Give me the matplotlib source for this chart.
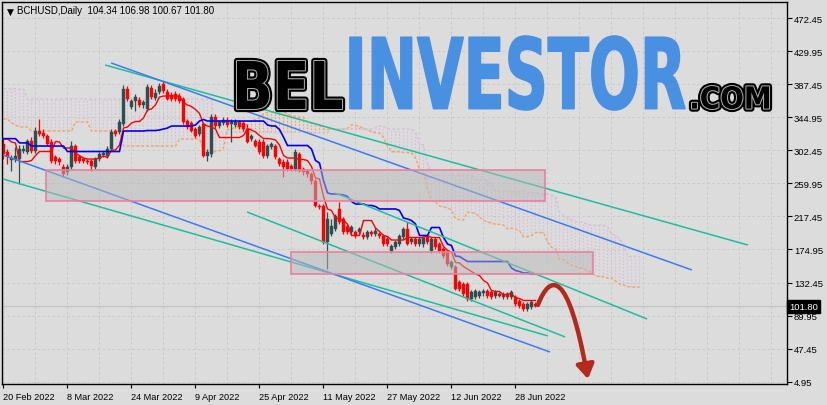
import numpy as np
import pandas as pd
import matplotlib
matplotlib.use("Agg")
import matplotlib.pyplot as plt
import matplotlib.colors as mcolors
from matplotlib.patches import Rectangle, FancyArrowPatch
from matplotlib.path import Path
from matplotlib.patheffects import AbstractPathEffect
from matplotlib.transforms import Affine2D
from matplotlib.textpath import TextPath
from matplotlib.font_manager import FontProperties

# ---------------- data ----------------
symbol_title = "BCHUSD,Daily"
first_date = "2022-02-20"

opens = [310.6, 300.3, 289.9, 289.9, 291.3, 301.6, 300.3, 314.4, 301.6, 327.3,
         324.8, 320.9, 313.2, 293.9, 291.3, 281.0, 274.5, 281.0, 308.0, 293.9,
         291.3, 288.7, 288.7, 281.0, 291.3, 296.4, 295.1, 304.2, 327.3, 326.0,
         336.3, 381.4, 358.2, 365.9, 367.2, 360.7, 355.6, 382.6, 369.8, 377.5,
         387.8, 377.5, 373.6, 374.9, 372.3, 368.5, 340.2, 337.6, 329.9, 323.5,
         336.3, 295.1, 297.7, 345.3, 333.8, 337.6, 341.5, 336.3, 335.0, 338.9,
         337.6, 329.9, 317.0, 314.4, 313.2, 313.2, 295.1, 306.7, 308.0, 291.3,
         287.4, 287.4, 282.3, 278.4, 297.7, 278.4, 275.8, 272.0, 263.0, 230.9,
         230.9, 184.6, 194.9, 201.3, 227.0, 214.2, 205.2, 197.5, 197.5, 197.5,
         193.6, 191.0, 197.5, 194.9, 194.9, 192.3, 188.5, 173.0, 178.2, 182.0,
         191.0, 201.3, 184.6, 188.5, 182.0, 182.0, 191.0, 173.0, 188.5, 182.0,
         175.6, 171.7, 152.5, 152.5, 133.2, 130.6, 130.6, 111.3, 113.9, 115.2,
         118.9, 121.6, 120.3, 115.2, 117.7, 113.9, 117.7, 113.9, 113.9, 108.7,
         104.9, 98.4, 101.0, 104.34]
highs = [317.0, 304.2, 296.4, 306.7, 309.3, 309.3, 317.0, 319.6, 332.5, 342.8,
         329.9, 323.5, 317.0, 296.4, 293.9, 284.8, 284.8, 314.4, 310.6, 296.4,
         293.9, 291.3, 291.3, 293.9, 300.3, 301.6, 308.0, 329.9, 329.9, 342.8,
         386.5, 385.2, 368.5, 374.9, 371.0, 367.2, 387.8, 386.5, 381.4, 389.1,
         391.6, 381.4, 377.5, 378.8, 376.2, 371.0, 342.8, 340.2, 332.5, 335.0,
         338.9, 304.2, 349.2, 349.2, 341.5, 345.3, 345.3, 342.8, 342.8, 341.5,
         340.2, 336.3, 323.5, 317.0, 317.0, 317.0, 310.6, 313.2, 310.6, 293.9,
         291.3, 291.3, 284.8, 304.2, 300.3, 281.0, 278.4, 274.5, 265.6, 233.5,
         233.5, 223.2, 214.2, 220.5, 236.0, 216.8, 207.7, 206.4, 200.1, 203.9,
         197.5, 200.1, 200.1, 203.9, 197.5, 194.9, 191.0, 182.0, 187.2, 194.9,
         203.9, 210.3, 191.0, 191.0, 191.0, 192.3, 193.6, 191.0, 191.0, 184.6,
         178.2, 174.3, 161.5, 155.0, 135.7, 133.2, 133.2, 122.9, 124.2, 122.9,
         124.2, 124.2, 122.9, 122.9, 120.3, 120.3, 120.3, 122.9, 116.4, 111.3,
         107.4, 107.4, 110.0, 106.98]
lows = [291.3, 284.8, 275.8, 287.4, 259.1, 299.0, 297.7, 299.0, 299.0, 320.9,
        318.3, 308.0, 286.1, 284.8, 283.6, 268.1, 270.7, 278.4, 286.1, 286.1,
        286.1, 284.8, 275.8, 278.4, 288.7, 293.9, 292.6, 301.6, 320.9, 323.5,
        333.8, 365.9, 355.6, 353.0, 358.2, 356.9, 353.0, 368.5, 367.2, 374.9,
        376.2, 367.2, 365.9, 365.9, 363.3, 336.3, 329.9, 326.0, 318.3, 320.9,
        293.9, 288.7, 293.9, 331.2, 331.2, 335.0, 332.5, 313.2, 332.5, 329.9,
        327.3, 311.9, 314.4, 306.7, 297.7, 292.6, 292.6, 304.2, 291.3, 282.3,
        268.1, 275.8, 275.8, 275.8, 274.5, 270.7, 268.1, 259.1, 229.6, 227.0,
        182.0, 149.9, 192.3, 198.8, 207.7, 194.9, 194.9, 194.9, 189.8, 194.9,
        188.5, 188.5, 192.3, 192.3, 189.8, 179.5, 179.5, 170.4, 175.6, 179.5,
        188.5, 180.8, 182.0, 179.5, 179.5, 178.2, 182.0, 170.4, 175.6, 170.4,
        164.0, 153.7, 149.9, 122.9, 121.6, 115.2, 108.7, 108.7, 111.3, 112.6,
        115.2, 112.6, 111.3, 112.6, 113.9, 111.3, 111.3, 111.3, 102.3, 99.7,
        95.9, 95.9, 98.4, 100.67]
closes = [297.7, 293.9, 292.6, 295.1, 304.2, 304.2, 314.4, 301.6, 327.3, 323.5,
          320.9, 310.6, 288.7, 288.7, 287.4, 272.0, 281.0, 308.0, 288.7, 288.7,
          288.7, 287.4, 282.3, 291.3, 297.7, 299.0, 304.2, 326.0, 323.5, 338.9,
          381.4, 368.5, 365.9, 371.0, 360.7, 364.6, 383.9, 371.0, 376.2, 385.2,
          378.8, 368.5, 368.5, 368.5, 365.9, 338.9, 332.5, 327.3, 320.9, 332.5,
          295.1, 300.3, 345.3, 333.8, 338.9, 341.5, 335.0, 338.9, 338.9, 332.5,
          329.9, 313.2, 320.9, 308.0, 300.3, 295.1, 308.0, 310.6, 293.9, 284.8,
          281.0, 278.4, 278.4, 300.3, 275.8, 274.5, 272.0, 263.0, 230.9, 229.6,
          184.6, 214.2, 205.2, 218.0, 210.3, 197.5, 197.5, 203.9, 192.3, 201.3,
          191.0, 197.5, 194.9, 198.8, 192.3, 182.0, 182.0, 179.5, 184.6, 192.3,
          201.3, 182.0, 188.5, 182.0, 188.5, 189.8, 184.6, 188.5, 178.2, 173.0,
          166.6, 156.3, 158.9, 124.2, 124.2, 117.7, 111.3, 120.3, 121.6, 120.3,
          121.6, 115.2, 113.9, 120.3, 115.2, 117.7, 113.9, 120.3, 104.9, 102.3,
          98.4, 104.9, 107.4, 101.80]

# Ichimoku values on the first bars (they depend on history before the visible window)
tenkan_early = [317.0, 317.0, 313.2, 311.9]
kijun_early = [317.5, 317.5, 317.5, 317.5, 312.0, 312.0, 312.0,
               308.0, 308.0, 308.0, 308.0, 308.0, 308.0, 308.0, 308.0, 308.0]
span_a_early = [342.8, 342.8, 338.0, 335.0, 332.5, 332.5, 332.5,
                327.3, 327.3, 327.3, 327.3, 327.3, 327.3, 327.3, 327.3, 327.3, 327.3, 327.3,
                338.9, 338.9, 338.9, 338.9,
                327.3, 327.3, 327.3, 327.3, 327.3, 327.3, 327.3, 327.3,
                308.0, 308.0, 308.0, 308.0, 308.0, 308.0, 308.0, 308.0, 308.0, 308.0,
                308.0, 308.0, 308.0, 308.0,
                317.0, 317.0, 317.0, 317.0, 317.0, 317.0,
                301.6]
span_b_early = [381.4, 381.4, 381.4, 381.4, 381.4, 381.4,
                368.5, 368.5, 368.5, 368.5, 368.5, 368.5, 368.5, 368.5, 368.5, 368.5,
                368.5, 368.5, 368.5, 368.5, 368.5, 368.5, 368.5, 368.5, 368.5, 368.5,
                368.5, 368.5, 368.5, 368.5, 368.5, 368.5, 368.5, 368.5, 368.5, 368.5,
                368.5, 368.5, 368.5, 368.5, 368.5, 368.5, 368.5, 368.5, 368.5, 368.5,
                368.5, 368.5, 368.5, 368.5, 368.5, 368.5, 368.5,
                326.0, 326.0, 326.0, 326.0, 326.0, 326.0, 326.0, 326.0, 326.0, 326.0,
                326.0, 326.0, 326.0, 326.0, 326.0, 326.0, 326.0, 326.0, 326.0, 326.0,
                326.0, 326.0, 326.0, 326.0]

y_ticks = [4.95, 47.45, 89.95, 132.45, 174.95, 217.45, 259.95, 302.45,
           344.95, 387.45, 429.95, 472.45]
x_label_dates = ["2022-02-20", "2022-03-08", "2022-03-24", "2022-04-09", "2022-04-25",
                 "2022-05-11", "2022-05-27", "2022-06-12", "2022-06-28"]
x_labels = ["20 Feb 2022", "8 Mar 2022", "24 Mar 2022", "9 Apr 2022", "25 Apr 2022",
            "11 May 2022", "27 May 2022", "12 Jun 2022", "28 Jun 2022"]

# trend lines (bar index, price)
tl_x0 = [25.4, 26.9, 82.9, 60.9, -0.1, -0.1]
tl_p0 = [412.2, 414.8, 247.6, 223.2, 265.6, 296.4]
tl_x1 = [186.1, 172.1, 160.9, 140.4, 136.1, 136.6]
tl_p1 = [180.7, 148.6, 85.6, 62.5, 63.8, 43.2]
tl_kind = ["teal", "blue", "teal", "teal", "teal", "blue"]

# rectangles (bar index, price)
box_x0 = [10.6, 72.0]
box_x1 = [135.4, 147.4]
box_top = [277.6, 171.1]
box_bot = [237.7, 143.4]

# forecast arrow bezier control points (bar index, price)
arrow_x = [133.6, 136.6, 141.1, 146.1]
arrow_p = [103.6, 143.4, 152.4, 8.4]

# ---------------- figure ----------------
W, H, DPI = 828, 406, 100
BG = "#DCDCDC"
fig = plt.figure(figsize=(W / DPI, H / DPI), dpi=DPI, facecolor=BG)
ax = fig.add_axes([2 / W, 1 - 385 / H, 785 / W, 382 / H])
ax.set_facecolor(BG)

o = np.array(opens); h = np.array(highs); l = np.array(lows); c = np.array(closes)
n = len(c)
idx = np.arange(n)

ax.set_xlim(-0.375, 195.875)
ax.set_ylim(2.0, 493.2)

# grid
grid_kw = dict(color="#C6C6C6", lw=0.6, ls=(0, (3, 3)), zorder=0)
for yt in y_ticks:
    ax.axhline(yt, **grid_kw)
for xv in np.arange(0, 196, 8):
    ax.axvline(xv, **grid_kw)

# Ichimoku
hs = pd.Series(h); ls_ = pd.Series(l)
tenkan = ((hs.rolling(9, min_periods=1).max() + ls_.rolling(9, min_periods=1).min()) / 2).values
kijun = ((hs.rolling(26, min_periods=1).max() + ls_.rolling(26, min_periods=1).min()) / 2).values
tenkan[:len(tenkan_early)] = tenkan_early
kijun[:len(kijun_early)] = kijun_early
a_comp = (tenkan + kijun) / 2
b_comp = ((hs.rolling(52).max() + ls_.rolling(52).min()) / 2).values
span_a = np.concatenate([np.array(span_a_early), a_comp[25:]])
span_b = np.concatenate([np.array(span_b_early), b_comp[51:]])
m = min(len(span_a), len(span_b))
span_a = span_a[:m]; span_b = span_b[:m]
jx = np.arange(m)

A_COL = "#F4A460"
B_COL = "#D8BFD8"
for j in jx:
    col = A_COL if span_a[j] >= span_b[j] else B_COL
    ax.vlines(j, min(span_a[j], span_b[j]), max(span_a[j], span_b[j]),
              colors=col, lw=0.8, ls=(0, (1.5, 1.5)), zorder=1)
ax.plot(jx, span_a, color=A_COL, lw=1.0, ls=(0, (2, 1.5)), zorder=1.5)
ax.plot(jx, span_b, color=B_COL, lw=1.0, ls=(0, (2, 1.5)), zorder=1.5)

# bid line
ax.axhline(c[-1], color="#C2C2C2", lw=0.8, zorder=1.6)

# candles
BULL = "#2F4F4F"
BEAR = "#FF0000"
cols = [BULL if c[i] >= o[i] else BEAR for i in idx]
ax.vlines(idx, l, h, colors=cols, lw=0.9, zorder=2)
body_lo = np.minimum(o, c)
body_h = np.maximum(np.abs(c - o), 0.9)
ax.bar(idx, body_h, bottom=body_lo, width=0.62, color=cols, edgecolor=cols, lw=0.3, zorder=2.1)

ax.plot(idx, tenkan, color="#FF0000", lw=1.0, zorder=3)
ax.plot(idx, kijun, color="#0000FF", lw=1.2, zorder=3)

# trend lines
line_cols = {"teal": "#1DBE9C", "blue": "#3C7CF0"}
for x0, p0, x1, p1, k in zip(tl_x0, tl_p0, tl_x1, tl_p1, tl_kind):
    ax.plot([x0, x1], [p0, p1], color=line_cols[k], lw=1.1, zorder=4, solid_capstyle="butt")

# rectangles
for x0, x1, t, b in zip(box_x0, box_x1, box_top, box_bot):
    ax.add_patch(Rectangle((x0, b), x1 - x0, t - b, facecolor="#BABABA", alpha=0.5,
                           edgecolor="none", zorder=5))
    ax.add_patch(Rectangle((x0, b), x1 - x0, t - b, facecolor="none",
                           edgecolor="#E8809E", lw=1.2, zorder=5.1))

# forecast arrow
apath = Path(list(zip(arrow_x, arrow_p)), [Path.MOVETO, Path.CURVE4, Path.CURVE4, Path.CURVE4])
arr = FancyArrowPatch(path=apath, arrowstyle="-|>,head_length=0.6,head_width=0.38",
                      mutation_scale=14, color="#B3291B", lw=3.2, zorder=6,
                      shrinkA=0, shrinkB=0, capstyle="round")
ax.add_patch(arr)

# axes styling
for s in ax.spines.values():
    s.set_color("black"); s.set_linewidth(1.0)
TICK_FONT = ["Liberation Sans", "DejaVu Sans"]
ax.yaxis.tick_right()
ax.set_yticks(y_ticks)
ax.set_yticklabels([f"{v:.2f}" for v in y_ticks], fontsize=6.8, family=TICK_FONT)
ax.tick_params(axis="y", direction="out", length=3.5, width=0.8, pad=1.5, colors="black")
xpos = [(pd.Timestamp(d) - pd.Timestamp(first_date)).days for d in x_label_dates]
ax.set_xticks(xpos)
ax.set_xticklabels(x_labels, fontsize=6.6, family=TICK_FONT, ha="left")
ax.tick_params(axis="x", direction="out", length=3, width=0.8, pad=2.5, colors="black")

ax.annotate(f"{c[-1]:.2f}", xy=(1.0, c[-1]), xycoords=ax.get_yaxis_transform(),
            xytext=(1.5, 0), textcoords="offset points", ha="left", va="center",
            color="white", fontsize=6.8, family=TICK_FONT,
            bbox=dict(boxstyle="square,pad=0.18", fc="black", ec="black"),
            annotation_clip=False, zorder=10)

# title
fig.text(7 / W, 1 - 14.5 / H, "\u25BC", fontsize=6.5, family="DejaVu Sans", color="black",
         ha="left", va="baseline")
fig.text(17 / W, 1 - 14.5 / H,
         f"{symbol_title}  {opens[-1]:.2f} {highs[-1]:.2f} {lows[-1]:.2f} {closes[-1]:.2f}",
         fontsize=7, family=TICK_FONT, color="black", ha="left", va="baseline")


# ---------------- watermark ----------------
class Stretch(AbstractPathEffect):
    """Stretch glyphs vertically about the baseline, then stroke or fill them."""

    def __init__(self, cy, sy, color, lw=0.0, fill=False):
        super().__init__()
        self.cy, self.sy, self.color, self.lw, self.fill = cy, sy, color, lw, fill

    def draw_path(self, renderer, gc, tpath, affine, rgbFace=None):
        aff = affine + Affine2D().translate(0, -self.cy).scale(1.0, self.sy).translate(0, self.cy)
        gc0 = renderer.new_gc()
        gc0.copy_properties(gc)
        gc0.set_foreground(self.color)
        gc0.set_linewidth(self.lw)
        gc0.set_joinstyle("round")
        face = mcolors.to_rgba(self.color) if self.fill else None
        renderer.draw_path(gc0, tpath, aff, face)
        gc0.restore()


WM_FP = FontProperties(family="DejaVu Sans", weight="bold")


def watermark(s, left, right, top, bottom, layers):
    tp = TextPath((0, 0), s, size=100, prop=WM_FP)
    bb = tp.get_extents()
    k = (right - left) / bb.width          # pixels per text-path unit
    fs = k * 100 * 72 / DPI
    sy = (bottom - top) / (bb.height * k)
    x_anchor = left - bb.x0 * k
    base = (H - bottom) - bb.y0 * k * sy
    effects = [Stretch(base, sy, col, lw, fill) for col, lw, fill in layers]
    fig.text(x_anchor / W, base / H, s, fontsize=fs, fontproperties=WM_FP, ha="left",
             va="baseline", path_effects=effects, zorder=20)


outline = [("black", 4.5, False), ("#A8A8A8", 1.5, False), ("black", 0.0, True)]
watermark("BEL", 237, 342, 62, 110, outline)
watermark("INVESTOR", 350, 685, 37, 111, [("#4A90E2", 1.2, False), ("#4A90E2", 0.0, True)])
watermark(".COM", 692, 769, 87, 110, outline)

fig.savefig("out.png", dpi=DPI, facecolor=BG)
